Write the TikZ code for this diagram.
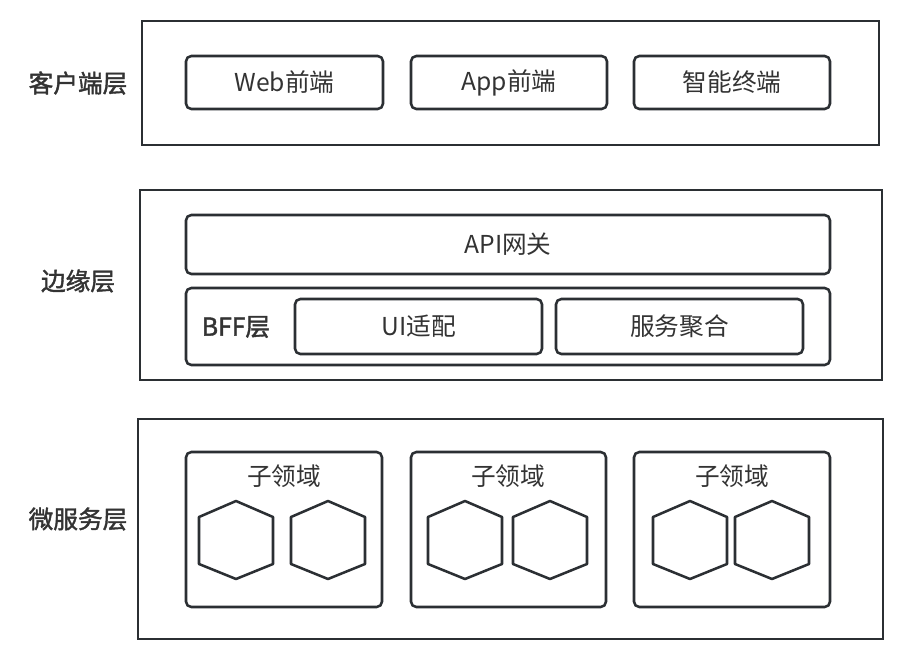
\documentclass[tikz,border=0pt]{standalone}
\usepackage{fontspec}
\setmainfont{Noto Sans CJK SC}
\newfontfamily\semibold[FakeBold=1.6]{Noto Sans CJK SC}
\usetikzlibrary{fit}
\definecolor{ink}{HTML}{2B2F33}
\definecolor{txt}{HTML}{333333}
\begin{document}
\begin{tikzpicture}[x=0.75pt,y=-0.75pt,
  every node/.style={text=txt,font=\fontsize{18.5pt}{22pt}\selectfont},
  layer/.style={draw=ink,line width=1.9pt,inner sep=0pt,fit={#1}},
  card/.style={draw=ink,line width=1.9pt,inner sep=0pt,rounded corners=4pt,fit={#1}},
  side/.style={font=\fontsize{18.5pt}{22pt}\selectfont\semibold},
  hexa/.pic={\draw[ink,line width=1.9pt,line join=round] (0,-39) -- (37,-23) -- (37,24) -- (0,39) -- (-37,24) -- (-37,-23) -- cycle;}
]
\useasboundingbox[fill=white] (0,0) rectangle (901,651);

% client layer
\node[layer={(142,21) (879,145)}] (client) {};
\node[side] (clientlbl) at (78,83) {客户端层};
\node[card={(186,56) (383,109)}] (web) {};
\node[card={(411,56) (607,109)}] (app) {};
\node[card={(634,56) (830,109)}] (smart) {};
\node (webt) at (web.center) {Web前端};
\node (appt) at (app.center) {App前端};
\node (smartt) at (smart.center) {智能终端};

% edge layer
\node[layer={(140,190) (882,380)}] (edge) {};
\node[side] (edgelbl) at (78,281) {边缘层};
\node[card={(186,215) (830,274)}] (api) {};
\node (apit) at (api.center) {API网关};
\node[card={(186,288) (830,365)}] (bff) {};
\node[side] (bfflbl) at (236,327) {BFF层};
\node[card={(295,299) (542,354)}] (ui) {};
\node[card={(556,299) (803,354)}] (agg) {};
\node (uit) at (ui.center) {UI适配};
\node (aggt) at (agg.center) {服务聚合};

% microservice layer
\node[layer={(138,419) (883,639)}] (micro) {};
\node[side] (microlbl) at (78,519) {微服务层};
\node[card={(186,452) (382,607)}] (sd1) {};
\node[card={(411,452) (606,607)}] (sd2) {};
\node[card={(634,452) (830,607)}] (sd3) {};
\node (sd1t) at (284,476) {子领域};
\node (sd2t) at (508,476) {子领域};
\node (sd3t) at (732,476) {子领域};
\pic at (236,540) {hexa};
\pic at (328,540) {hexa};
\pic at (465,540) {hexa};
\pic at (550,540) {hexa};
\pic at (690,540) {hexa};
\pic at (772,540) {hexa};
\end{tikzpicture}
\end{document}
